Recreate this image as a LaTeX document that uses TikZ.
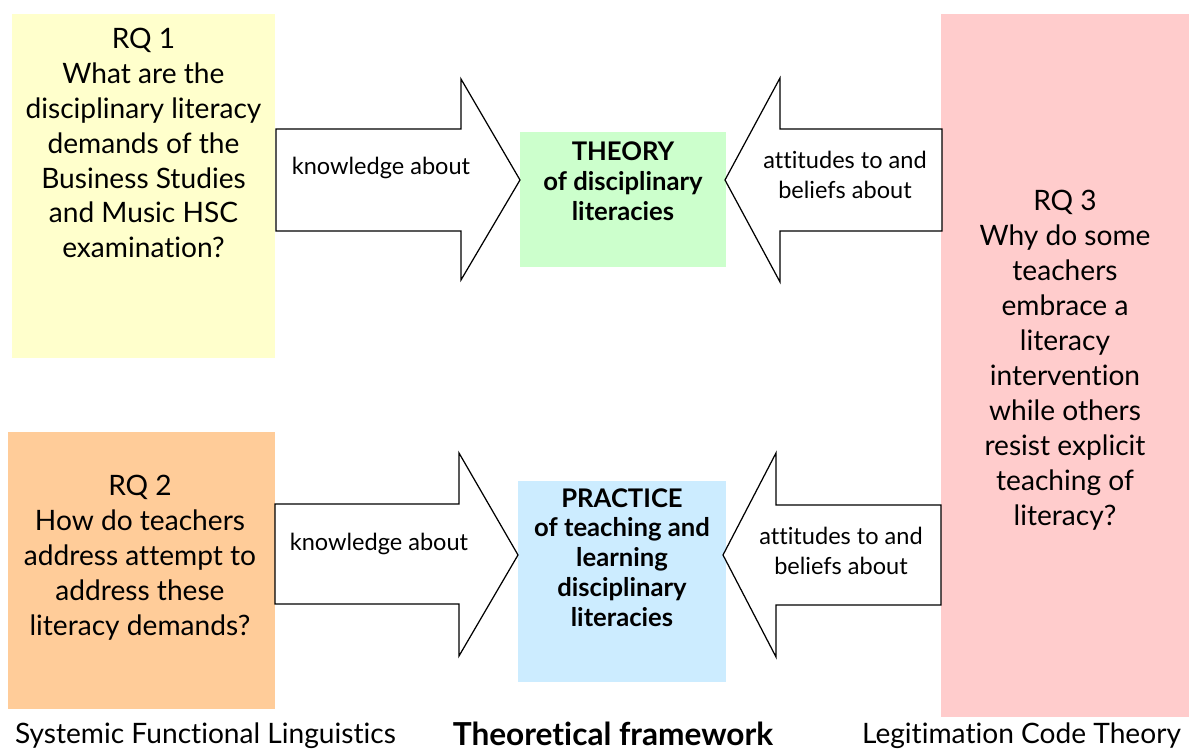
\documentclass[tikz,border=0pt]{standalone}
\usepackage{fontspec}
\setmainfont{Lato}[Ligatures=NoCommon]
\usepackage{tikz}
\usetikzlibrary{arrows.meta}
\usepackage{xcolor}
\definecolor{rqyellow}{HTML}{FFFFCC}
\definecolor{rqorange}{HTML}{FFCC99}
\definecolor{rqpink}{HTML}{FFCCCC}
\definecolor{theorygreen}{HTML}{CCFFCC}
\definecolor{practiceblue}{HTML}{CCECFF}

\begin{document}
\begin{tikzpicture}[
        rqtext/.style={align=center, font=\fontsize{16}{19.9}\selectfont},
        coretext/.style={align=center, font=\bfseries\fontsize{14.6}{17}\selectfont},
        arrowtext/.style={align=center, font=\fontsize{13.4}{17}\selectfont},
        blockarrow/.style={draw=black, fill=white, line width=0.7pt, line join=miter}
    ]
        \useasboundingbox (0,0) rectangle (23.78,15.08);

        % coloured boxes
        \fill[rqyellow] (0.24,7.92) rectangle (5.50,14.80);
        \fill[rqorange] (0.16,0.90) rectangle (5.50,6.44);
        \fill[rqpink] (18.82,0.74) rectangle (23.78,14.80);
        \fill[theorygreen] (10.40,9.74) rectangle (14.52,12.44);
        \fill[practiceblue] (10.36,1.44) rectangle (14.52,5.46);

        % block arrows
        \draw[blockarrow] (5.52,12.50) -- (9.22,12.50) -- (9.22,13.50) -- (10.40,11.48) -- (9.22,9.48) -- (9.22,10.46) -- (5.52,10.46) -- cycle;
        \draw[blockarrow] (5.50,5.00) -- (9.18,5.00) -- (9.18,6.02) -- (10.36,3.98) -- (9.18,1.96) -- (9.18,3.00) -- (5.50,3.00) -- cycle;
        \draw[blockarrow] (18.84,12.50) -- (15.60,12.50) -- (15.60,13.52) -- (14.50,11.48) -- (15.60,9.44) -- (15.60,10.46) -- (18.84,10.46) -- cycle;
        \draw[blockarrow] (18.82,4.98) -- (15.52,4.98) -- (15.52,6.02) -- (14.46,3.98) -- (15.52,1.94) -- (15.52,2.98) -- (18.82,2.98) -- cycle;

        \node[rqtext] (rqone) at (2.87,12.22) {RQ 1\\What are the\\disciplinary literacy\\demands of the\\Business Studies\\and Music HSC\\examination?};
        \node[rqtext] (rqtwo) at (2.80,3.92) {RQ 2\\How do teachers\\address attempt to\\address these\\literacy demands?};
        \node[rqtext] (rqthree) at (21.30,7.88) {RQ 3\\Why do some\\teachers\\embrace a\\literacy\\intervention\\while others\\resist explicit\\teaching of\\literacy?};

        \node[coretext] (theory) at (12.46,11.45) {THEORY\\of disciplinary\\literacies};
        \node[coretext] (practice) at (12.44,3.93) {PRACTICE\\of teaching and\\learning\\disciplinary\\literacies};

        \node[arrowtext] (knowtop) at (7.62,11.72) {knowledge about};
        \node[arrowtext] (knowbottom) at (7.58,4.20) {knowledge about};
        \node[arrowtext] (attitop) at (16.90,11.58) {attitudes to and\\beliefs about};
        \node[arrowtext] (attibottom) at (16.82,4.06) {attitudes to and\\beliefs about};

        \node[rqtext] (sfl) at (4.11,0.36) {Systemic Functional Linguistics};
        \node[rqtext, font=\bfseries\fontsize{18}{19.9}\selectfont] (framework) at (12.26,0.40) {Theoretical framework};
        \node[rqtext] (lct) at (20.43,0.36) {Legitimation Code Theory};
    \end{tikzpicture}
\end{document}
